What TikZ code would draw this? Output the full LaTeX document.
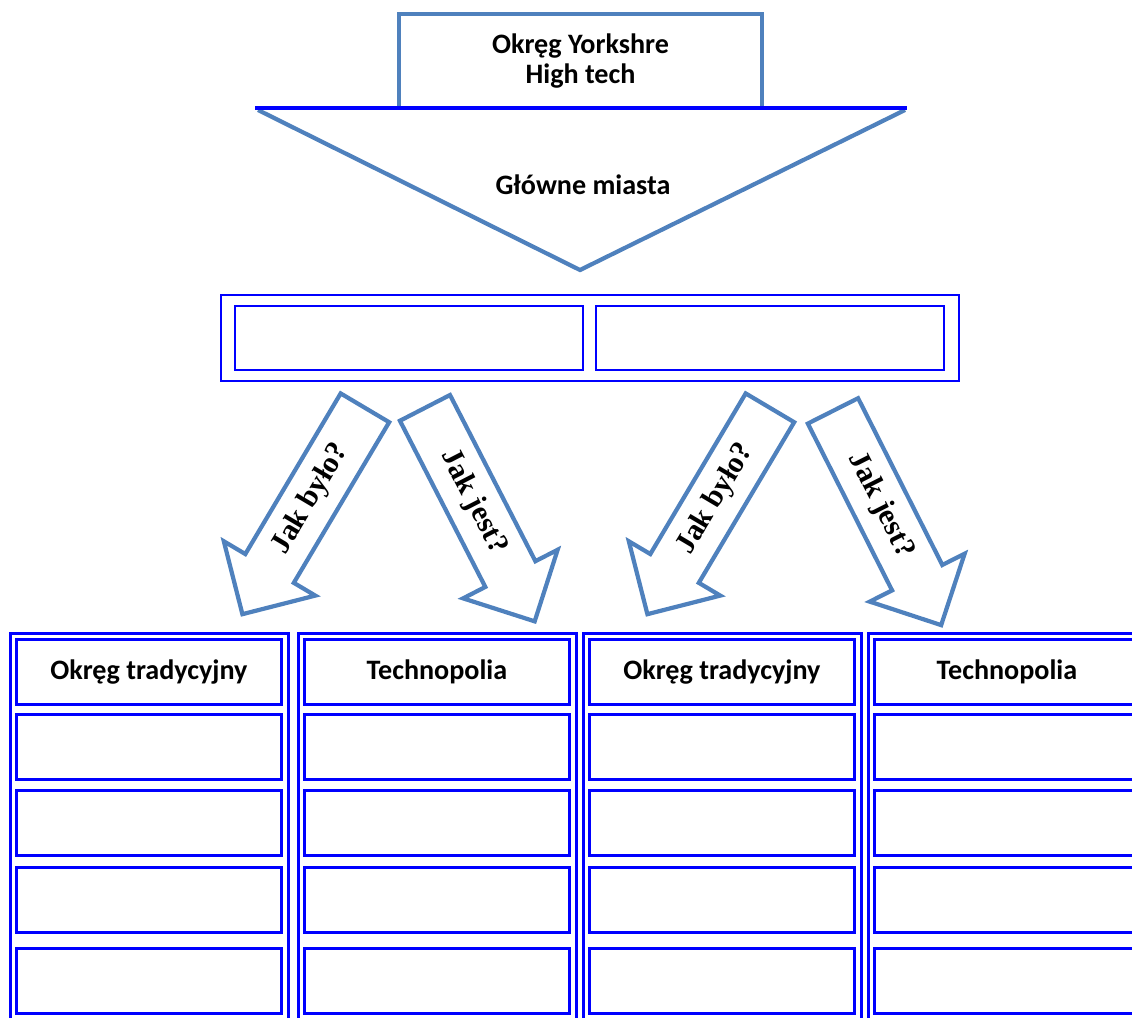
\documentclass[tikz,border=0pt]{standalone}
\usepackage{fontspec}
\setmainfont{Carlito}
\newfontfamily\timesfont{Liberation Serif}
\usetikzlibrary{shapes.arrows}
\definecolor{steel}{RGB}{79,129,189}

\begin{document}
\begin{tikzpicture}[
  every node/.style={font=\bfseries\fontsize{16}{17.6}\selectfont},
  box/.style={draw=blue, line width=1.6pt, inner sep=0pt,
    minimum width=5.3cm, minimum height=1.3cm, anchor=north west},
  column/.style={draw=blue, line width=1.6pt, inner sep=0pt,
    minimum width=5.56cm, minimum height=9cm, anchor=north west},
  steelbox/.style={draw=steel, line width=2.4pt},
  bigarrow/.style={single arrow, draw=steel, line width=2.4pt,
    font=\timesfont\bfseries\fontsize{17}{20}\selectfont,
    minimum height=4.8cm, single arrow head extend=0.5cm,
    single arrow tip angle=90, inner ysep=0.25cm, anchor=tail},
]
  \useasboundingbox (0,0) rectangle (22.64,-20.34);
  \clip (0,0) rectangle (22.64,-20.34);

  \node[steelbox, minimum width=7.26cm, minimum height=1.88cm, align=center]
    (region) at (11.61,-1.22) {Okręg Yorkshre\\High tech};
  \draw[steelbox] (5.16,-2.2) -- (11.6,-5.4) -- (18.1,-2.2);
  \draw[blue, line width=2.8pt] (5.1,-2.16) -- (18.14,-2.16);
  \node (cities) at (11.66,-3.7) {Główne miasta};

  \node[draw=blue, line width=1.6pt, minimum width=14.76cm, minimum height=1.72cm]
    (pair) at (11.8,-6.76) {};
  \node[draw=blue, line width=1.6pt, minimum width=6.96cm, minimum height=1.28cm]
    (cityA) at (8.18,-6.76) {};
  \node[draw=blue, line width=1.6pt, minimum width=6.96cm, minimum height=1.28cm]
    (cityB) at (15.4,-6.76) {};

  \node[bigarrow, shape border rotate=180, rotate=59.3] (wasA) at (7.32,-8.12) {Jak było?};
  \node[bigarrow, rotate=-62.8] (isA) at (8.48,-8.12) {Jak jest?};
  \node[bigarrow, shape border rotate=180, rotate=59.3] (wasB) at (15.42,-8.12) {Jak było?};
  \node[bigarrow, rotate=-63.2] (isB) at (16.64,-8.18) {Jak jest?};

  \foreach \x/\name [count=\i] in {0.18/Okręg tradycyjny, 5.94/Technopolia,
      11.64/Okręg tradycyjny, 17.34/Technopolia} {
    \node[column] (col\i) at (\x,-12.64) {};
    \node[box] (head\i) at (\x+0.12,-12.76) {\name};
    \foreach \y [count=\j] in {14.26,15.78,17.32,18.94}
      \node[box] (cell\i-\j) at (\x+0.12,-\y) {};
  }
\end{tikzpicture}
\end{document}
